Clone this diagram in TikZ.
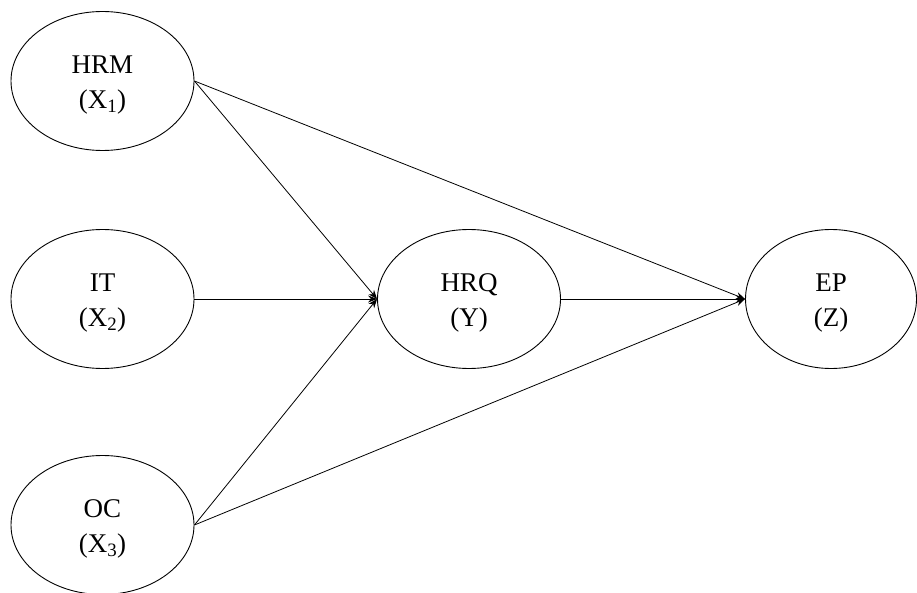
\documentclass[tikz,border=0pt]{standalone}
\usepackage{fontspec}
\setmainfont{Liberation Serif}
\usetikzlibrary{arrows.meta,shapes.geometric}
\tikzset{
  latent/.style={draw, line width=0.9pt, ellipse, minimum width=183pt, minimum height=139pt, inner sep=0pt,
    label={[lbltext]center:#1}},
  lbltext/.style={align=center, yshift=-4pt, inner sep=0pt, font=\fontsize{27}{35}\selectfont},
  path/.style={draw, line width=0.8pt, -{Stealth[length=9pt,width=7pt]}},
}
\begin{document}
\begin{tikzpicture}[x=1pt,y=-1pt]
\useasboundingbox (0,0) rectangle (917,593);
\node[latent={HRM\\(X\textsubscript{1})}] (hrm) at (102.5,81) {};
\node[latent={IT\\(X\textsubscript{2})}] (it) at (102.5,299) {};
\node[latent={OC\\(X\textsubscript{3})}] (oc) at (102.5,525) {};
\node[latent={HRQ\\(Y)}] (hrq) at (469,299) {};
\node[latent={EP\\(Z)}, minimum width=171pt] (ep) at (831,299) {};
\draw[path] (hrm.east) -- (hrq.west);
\draw[path] (hrm.east) -- (ep.west);
\draw[path] (it.east) -- (hrq.west);
\draw[path] (oc.east) -- (hrq.west);
\draw[path] (oc.east) -- (ep.west);
\draw[path] (hrq.east) -- (ep.west);
\end{tikzpicture}
\end{document}
